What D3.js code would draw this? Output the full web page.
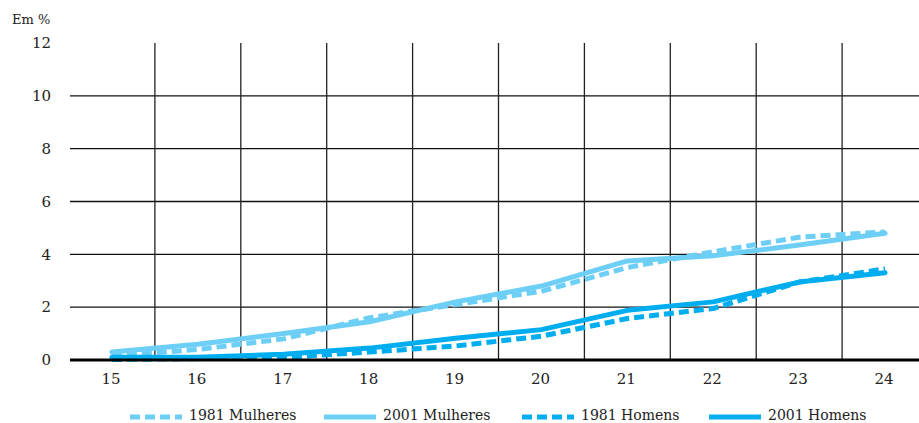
<!DOCTYPE html>
<html>
<head>
<meta charset="utf-8">
<script src="https://cdn.jsdelivr.net/npm/d3@7"></script>
<style>
  body { margin: 0; background: #fff; }
  text { font-family: "DejaVu Serif", "Liberation Serif", serif; }
</style>
</head>
<body>
<svg id="chart"></svg>
<script>
// idade (anos)
const ages = [15, 16, 17, 18, 19, 20, 21, 22, 23, 24];
const yTicks = [0, 2, 4, 6, 8, 10, 12];

// Em %
const mulheres1981 = [0.15, 0.4, 0.8, 1.6, 2.1, 2.6, 3.5, 4.1, 4.65, 4.85];
const mulheres2001 = [0.3, 0.6, 1.0, 1.45, 2.2, 2.8, 3.75, 3.95, 4.35, 4.8];
const homens1981 = [0.02, 0.05, 0.1, 0.3, 0.53, 0.9, 1.57, 1.95, 2.95, 3.45];
const homens2001 = [0.1, 0.1, 0.22, 0.45, 0.82, 1.15, 1.88, 2.2, 2.95, 3.3];

const seriesNames = ['1981 Mulheres', '2001 Mulheres', '1981 Homens', '2001 Homens'];
const seriesValues = [mulheres1981, mulheres2001, homens1981, homens2001];

const LIGHT = '#6dcff6';
const DARK = '#00aeef';
const styles = [
  { color: LIGHT, dash: '10,5' },
  { color: LIGHT, dash: null },
  { color: DARK, dash: '10,5' },
  { color: DARK, dash: null }
];

const width = 919, height = 423;
const svg = d3.select('#chart')
  .attr('width', width).attr('height', height);

const x = d3.scaleLinear().domain([14.5, 24.5]).range([69, 928]);
const y = d3.scaleLinear().domain([0, 12]).range([360, 43]);
const left = 70, right = 919;

// horizontal grid
svg.append('g')
  .selectAll('line')
  .data(yTicks.filter(d => d > 0 && d < 12))
  .join('line')
  .attr('x1', left).attr('x2', right)
  .attr('y1', d => y(d)).attr('y2', d => y(d))
  .attr('stroke', '#111').attr('stroke-width', 1.3);

// vertical grid between the ages
svg.append('g')
  .selectAll('line')
  .data(ages.slice(0, -1).map(a => a + 0.5))
  .join('line')
  .attr('x1', d => x(d)).attr('x2', d => x(d))
  .attr('y1', y(12)).attr('y2', y(0))
  .attr('stroke', '#222').attr('stroke-width', 1.3);

// series lines
const line = d3.line()
  .x((d, i) => x(ages[i]))
  .y(d => y(d));

const order = [1, 0, 3, 2];
svg.append('g')
  .selectAll('path')
  .data(order)
  .join('path')
  .attr('d', k => line(seriesValues[k]))
  .attr('fill', 'none')
  .attr('stroke', k => styles[k].color)
  .attr('stroke-width', 5)
  .attr('stroke-linecap', k => styles[k].dash ? 'butt' : 'round')
  .attr('stroke-linejoin', 'round')
  .attr('stroke-dasharray', k => styles[k].dash);

// baseline
svg.append('line')
  .attr('x1', left).attr('x2', right)
  .attr('y1', y(0)).attr('y2', y(0))
  .attr('stroke', '#000').attr('stroke-width', 3);

// y labels
svg.append('g')
  .selectAll('text')
  .data(yTicks)
  .join('text')
  .attr('x', 51)
  .attr('y', d => y(d))
  .attr('dy', '0.35em')
  .attr('text-anchor', 'end')
  .attr('font-size', 15)
  .attr('fill', '#222')
  .text(d => d);

svg.append('text')
  .attr('x', 12).attr('y', 24)
  .attr('font-size', 13)
  .attr('fill', '#222')
  .text('Em %');

// x labels
svg.append('g')
  .selectAll('text')
  .data(ages)
  .join('text')
  .attr('x', d => x(d) - 1)
  .attr('y', 384)
  .attr('text-anchor', 'middle')
  .attr('font-size', 15)
  .attr('fill', '#222')
  .text(d => d);

// legend
const legendX = [130, 324, 522, 709];
const legend = svg.append('g')
  .selectAll('g')
  .data(seriesNames)
  .join('g')
  .attr('transform', (d, i) => `translate(${legendX[i]},417)`);

legend.append('line')
  .attr('x1', 0).attr('x2', 52)
  .attr('y1', 0).attr('y2', 0)
  .attr('stroke', (d, i) => styles[i].color)
  .attr('stroke-width', 5)
  .attr('stroke-dasharray', (d, i) => styles[i].dash);

legend.append('text')
  .attr('x', 59)
  .attr('y', 3)
  .attr('font-size', 14)
  .attr('fill', '#222')
  .text(d => d);
</script>
</body>
</html>
